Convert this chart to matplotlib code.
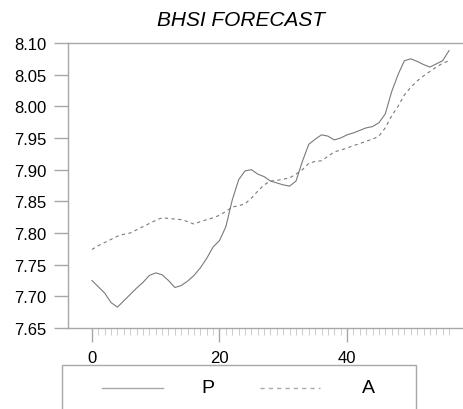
import matplotlib
matplotlib.use("Agg")
import matplotlib.pyplot as plt
from matplotlib.lines import Line2D
from matplotlib.patches import Rectangle
from matplotlib.ticker import MultipleLocator, FormatStrFormatter

# valeurs (indice 0..56)
periods = list(range(57))

forecast_p = [7.725, 7.715, 7.705, 7.690, 7.683, 7.693, 7.703, 7.713, 7.722, 7.733,
              7.737, 7.734, 7.725, 7.714, 7.717, 7.724, 7.733, 7.745, 7.760, 7.778,
              7.788, 7.810, 7.852, 7.884, 7.898, 7.900, 7.893, 7.889, 7.882, 7.879,
              7.876, 7.874, 7.882, 7.913, 7.940, 7.948, 7.955, 7.953, 7.947, 7.950,
              7.955, 7.958, 7.962, 7.966, 7.968, 7.974, 7.988, 8.023, 8.050, 8.072,
              8.075, 8.071, 8.066, 8.062, 8.067, 8.072, 8.088]

actual_a = [7.774, 7.780, 7.785, 7.790, 7.795, 7.798, 7.800, 7.805, 7.810, 7.815,
            7.820, 7.824, 7.823, 7.822, 7.821, 7.818, 7.814, 7.818, 7.821, 7.824,
            7.828, 7.834, 7.841, 7.843, 7.846, 7.855, 7.866, 7.876, 7.882, 7.883,
            7.885, 7.887, 7.893, 7.900, 7.910, 7.913, 7.914, 7.921, 7.928, 7.931,
            7.934, 7.938, 7.941, 7.945, 7.948, 7.953, 7.966, 7.985, 8.000, 8.018,
            8.030, 8.040, 8.048, 8.055, 8.062, 8.068, 8.072]

series_names = ["P", "A"]
title_text = "BHSI FORECAST"

plt.rcParams['font.family'] = ['Liberation Sans', 'DejaVu Sans']

W, H = 464, 410
fig = plt.figure(figsize=(W / 100, H / 100), dpi=100)

# axes en pixels : gauche 68, droite 464, haut 44, bas 329
ax = fig.add_axes([68 / W, 1 - 329 / H, (464 - 68) / W, (329 - 44) / H])

line_col = "#7a7a7a"
axis_col = "#a8a8a8"

ax.plot(periods, forecast_p, color=line_col, lw=0.8, ls='-')
ax.plot(periods, actual_a, color=line_col, lw=0.8, ls=(0, (3, 3)))

ax.set_xlim(-3.76, 58.35)
ax.set_ylim(7.65, 8.10)

ax.spines['right'].set_visible(False)
for s in ['top', 'left', 'bottom']:
    ax.spines[s].set_color(axis_col)
    ax.spines[s].set_linewidth(1.0)

ax.yaxis.set_major_locator(MultipleLocator(0.05))
ax.yaxis.set_major_formatter(FormatStrFormatter('%.2f'))
ax.xaxis.set_major_locator(MultipleLocator(20))

ax.tick_params(axis='y', length=10, width=1, color=axis_col, pad=5.5,
               labelsize=12, labelcolor='black')
ax.tick_params(axis='x', which='major', length=10, width=1, color=axis_col,
               pad=6, labelsize=12, labelcolor='black')
ax.tick_params(axis='x', which='minor', length=5, width=0.6, color='#c4c4c4')
# les ticks mineurs s'arrêtent avec la dernière période
ax.set_xticks([t for t in periods if t % 20 != 0], minor=True)

fig.text(241 / W, 1 - 21 / H, title_text, ha='center', va='center',
         fontsize=15, style='italic')

# légende dessinée à la main, boîte coupée en bas
box = Rectangle((62 / W, -0.05), (416 - 62) / W, 0.05 + (1 - 366 / H),
                transform=fig.transFigure, fill=False, edgecolor=axis_col,
                lw=1.0)
fig.add_artist(box)
ly = 1 - 389 / H
fig.add_artist(Line2D([102 / W, 163 / W], [ly, ly], transform=fig.transFigure,
                      color=axis_col, lw=1.0))
fig.add_artist(Line2D([260 / W, 320 / W], [ly, ly], transform=fig.transFigure,
                      color=axis_col, lw=1.0, ls=(0, (3, 3))))
fig.text(208 / W, ly, series_names[0], ha='center', va='center', fontsize=14)
fig.text(368 / W, ly, series_names[1], ha='center', va='center', fontsize=14)

fig.savefig("out.png", dpi=100)
